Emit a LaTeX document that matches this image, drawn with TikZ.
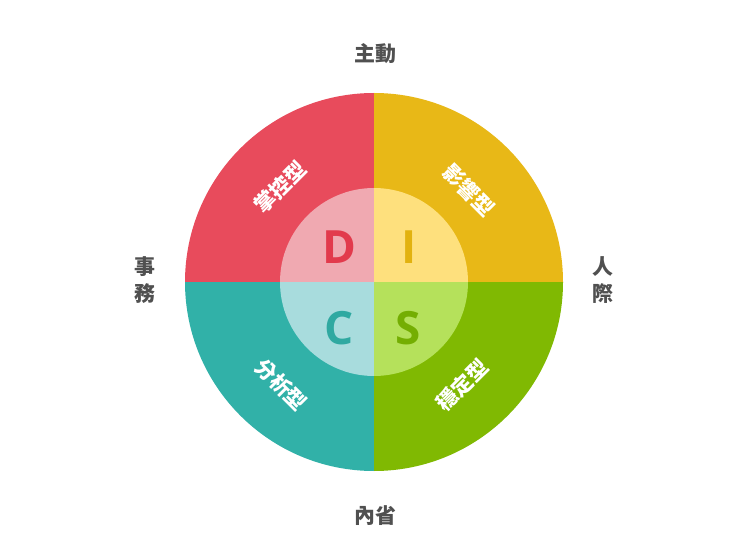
\documentclass[tikz,border=0pt]{standalone}
\usepackage{fontspec}
\setmainfont{Open Sans}
\newfontfamily\cjk{Noto Sans CJK TC}
\definecolor{qred}{HTML}{E84B5C}
\definecolor{qyel}{HTML}{E8B817}
\definecolor{qteal}{HTML}{31B1A8}
\definecolor{qgrn}{HTML}{80B902}
\definecolor{ired}{HTML}{F0A9B1}
\definecolor{iyel}{HTML}{FEE07D}
\definecolor{iteal}{HTML}{A8DCDD}
\definecolor{igrn}{HTML}{B5E15B}
\definecolor{lred}{HTML}{E23A4C}
\definecolor{lyel}{HTML}{E2B20F}
\definecolor{lteal}{HTML}{2FA9A1}
\definecolor{lgrn}{HTML}{74AE02}
\definecolor{axisgray}{HTML}{505050}
\tikzset{
  axislabel/.style={font=\cjk\bfseries\fontsize{21}{24}\selectfont, text=axisgray, inner sep=0pt},
  typelabel/.style={font=\cjk\bfseries\fontsize{21}{24}\selectfont, text=white, inner sep=0pt},
  letter/.style={font=\bfseries\fontsize{46}{50}\selectfont, inner sep=0pt}
}
\begin{document}
\begin{tikzpicture}[x=1bp,y=-1bp]
\useasboundingbox (0,0) rectangle (732,558);
\fill[white] (0,0) rectangle (732,558);
\coordinate (O) at (374,282);
% outer quadrants
\begin{scope}\clip (O) rectangle ++(-200,-200); \fill[qred] (O) circle[radius=189]; \fill[ired] (O) circle[radius=94]; \end{scope}
\begin{scope}\clip (O) rectangle ++(200,-200); \fill[qyel] (O) circle[radius=189]; \fill[iyel] (O) circle[radius=94]; \end{scope}
\begin{scope}\clip (O) rectangle ++(-200,200); \fill[qteal] (O) circle[radius=189]; \fill[iteal] (O) circle[radius=94]; \end{scope}
\begin{scope}\clip (O) rectangle ++(200,200); \fill[qgrn] (O) circle[radius=189]; \fill[igrn] (O) circle[radius=94]; \end{scope}
% letters
\node[letter, text=lred]  (D) at (339,247) {D};
\node[letter, text=lyel]  (I) at (409,247) {I};
\node[letter, text=lteal] (C) at (339,328) {C};
\node[letter, text=lgrn]  (S) at (408,328) {S};
% type labels
\node[typelabel, rotate=45]  (dom) at (280,187) {掌控型};
\node[typelabel, rotate=-45] (inf) at (469,190) {影響型};
\node[typelabel, rotate=-45] (ana) at (281,385) {分析型};
\node[typelabel, rotate=45]  (sta) at (462,385) {穩定型};
% axis labels
\node[axislabel] (top) at (375,54) {主動};
\node[axislabel] (bot) at (375,516) {內省};
\node[axislabel, align=center] (lft) at (145,280) {事\\[3pt]務};
\node[axislabel, align=center] (rgt) at (603,280) {人\\[3pt]際};
\end{tikzpicture}
\end{document}
